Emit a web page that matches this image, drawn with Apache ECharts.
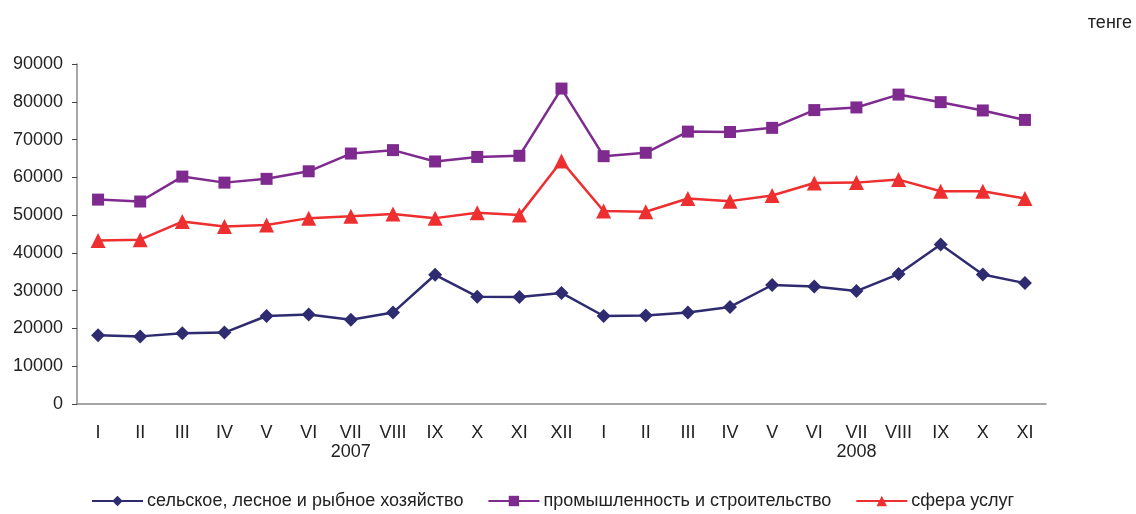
<!DOCTYPE html>
<html>
<head>
<meta charset="utf-8">
<script src="https://cdn.jsdelivr.net/npm/echarts@6/dist/echarts.min.js"></script>
<style>
  html, body { margin: 0; padding: 0; background: #fff; }
  #chart { width: 1136px; height: 514px; }
</style>
</head>
<body>
<div id="chart"></div>
<script>
// месяцы 2007 (I-XII) и 2008 (I-XI)
const months = ["I", "II", "III", "IV", "V", "VI", "VII", "VIII", "IX", "X", "XI", "XII",
                "I", "II", "III", "IV", "V", "VI", "VII", "VIII", "IX", "X", "XI"];
// под какими месяцами подписывается год
const yearLabels = { 6: "2007", 18: "2008" };

const seriesNames = ["сельское, лесное и рыбное хозяйство", "промышленность и строительство", "сфера услуг"];

const agriculture = [18200, 17900, 18700, 18900, 23300, 23700, 22300, 24200, 34200, 28400, 28300, 29400,
                     23300, 23400, 24200, 25700, 31500, 31100, 29900, 34400, 42200, 34300, 32000];
const industry = [54100, 53600, 60200, 58600, 59600, 61600, 66300, 67200, 64200, 65400, 65700, 83500,
                  65600, 66500, 72100, 72000, 73100, 77800, 78500, 81900, 79900, 77700, 75200];
const services = [43300, 43500, 48300, 47000, 47400, 49200, 49700, 50300, 49200, 50600, 50000, 64300,
                  51100, 50900, 54400, 53700, 55200, 58500, 58600, 59400, 56300, 56300, 54400];

const chart = echarts.init(document.getElementById("chart"));
const font = "'Liberation Sans', Arial, sans-serif";

chart.setOption({
    animation: false,
    textStyle: { fontFamily: font },
    graphic: [{
        type: "text",
        right: 4,
        top: 14,
        style: { text: "тенге", font: "18px " + font, fill: "#222" }
    }],
    grid: { left: 77, right: 90, top: 64, bottom: 110 },
    legend: {
        top: 487,
        left: 86,
        itemWidth: 51,
        itemHeight: 13,
        itemGap: 24,
        textStyle: { fontSize: 18, color: "#222", fontFamily: font, padding: [0, 0, 0, -1] },
        data: seriesNames
    },
    xAxis: {
        type: "category",
        data: months,
        boundaryGap: true,
        axisLine: { lineStyle: { color: "#888", width: 1.5 } },
        axisTick: { length: 6, lineStyle: { color: "#444" } },
        axisLabel: {
            color: "#222",
            fontSize: 18,
            margin: 20,
            lineHeight: 19,
            interval: 0,
            formatter: function (value, index) {
                return yearLabels[index] ? value + "\n" + yearLabels[index] : value;
            }
        }
    },
    yAxis: {
        type: "value",
        min: 0,
        max: 90000,
        interval: 10000,
        splitLine: { show: false },
        axisLine: { show: true, lineStyle: { color: "#888", width: 1.5 } },
        axisTick: { show: true, length: 5, lineStyle: { color: "#444" } },
        axisLabel: {
            color: "#222",
            fontSize: 18,
            margin: 14,
            formatter: function (v) { return String(v); }
        }
    },
    series: [
        {
            name: seriesNames[0],
            type: "line",
            data: agriculture,
            symbol: "diamond",
            symbolSize: 14,
            color: "#2e2b70",
            lineStyle: { width: 2.5 }
        },
        {
            name: seriesNames[1],
            type: "line",
            data: industry,
            symbol: "rect",
            symbolSize: 12,
            color: "#7e2a8e",
            lineStyle: { width: 2.5 }
        },
        {
            name: seriesNames[2],
            type: "line",
            data: services,
            symbol: "triangle",
            symbolSize: 15,
            color: "#ee2f2f",
            lineStyle: { width: 2.5 }
        }
    ]
});
</script>
</body>
</html>
